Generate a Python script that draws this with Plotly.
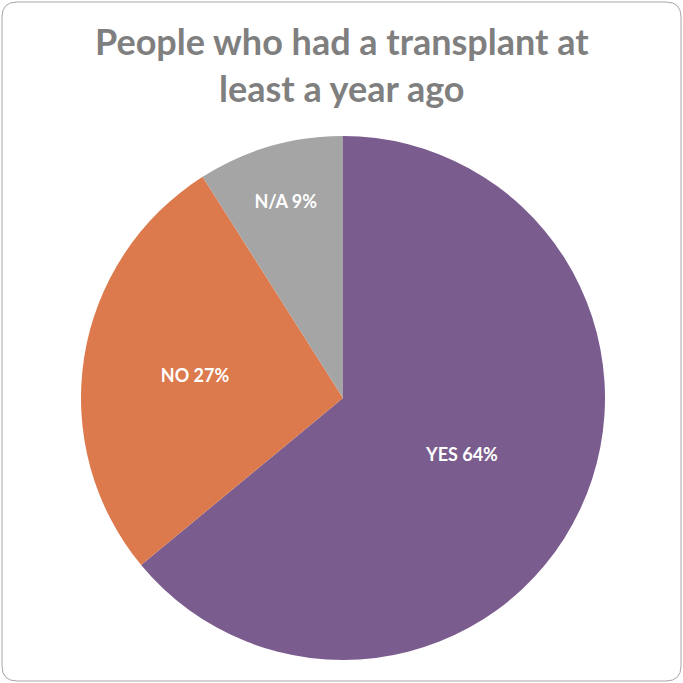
import plotly.graph_objects as go

categories = ["YES", "NO", "N/A"]
values = [64, 27, 9]
colors = ["#7B5C8E", "#DC7A4D", "#A5A5A5"]
title_text = "People who had a transplant at<br>least a year ago"

W = H = 683
fig = go.Figure(go.Pie(
    labels=categories,
    values=values,
    sort=False,
    direction="clockwise",
    rotation=0,
    marker=dict(colors=colors, line=dict(color="white", width=0)),
    texttemplate="%{label} %{value}%",
    textposition="inside",
    insidetextorientation="horizontal",
    textfont=dict(family="Lato", size=18, color="white", weight="bold"),
    domain=dict(x=[81/W, 605/W], y=[1-660/H, 1-136/H]),
    hoverinfo="skip",
    showlegend=False,
))

r = 15 / W
x0, x1 = 2 / W, 681 / W
y0, y1 = 1 - 681 / H, 1 - 2 / H
path = (f"M {x0+r},{y1} L {x1-r},{y1} Q {x1},{y1} {x1},{y1-r} "
        f"L {x1},{y0+r} Q {x1},{y0} {x1-r},{y0} L {x0+r},{y0} "
        f"Q {x0},{y0} {x0},{y0+r} L {x0},{y1-r} Q {x0},{y1} {x0+r},{y1} Z")

fig.update_layout(
    width=W, height=H,
    margin=dict(l=0, r=0, t=0, b=0),
    paper_bgcolor="white",
    annotations=[dict(
        text=title_text, showarrow=False,
        xref="paper", yref="paper", x=342/W, y=1 - 17/H,
        xanchor="center", yanchor="top",
        font=dict(family="Lato", size=36, color="#7F7F7F", weight="bold"),
    )],
    shapes=[dict(type="path", path=path, xref="paper", yref="paper",
                 line=dict(color="#A6A6A6", width=1), layer="above")],
)

fig.write_html("out.html", config={"displayModeBar": False},
               post_script="document.body.style.margin='0';document.body.style.overflow='hidden';")
